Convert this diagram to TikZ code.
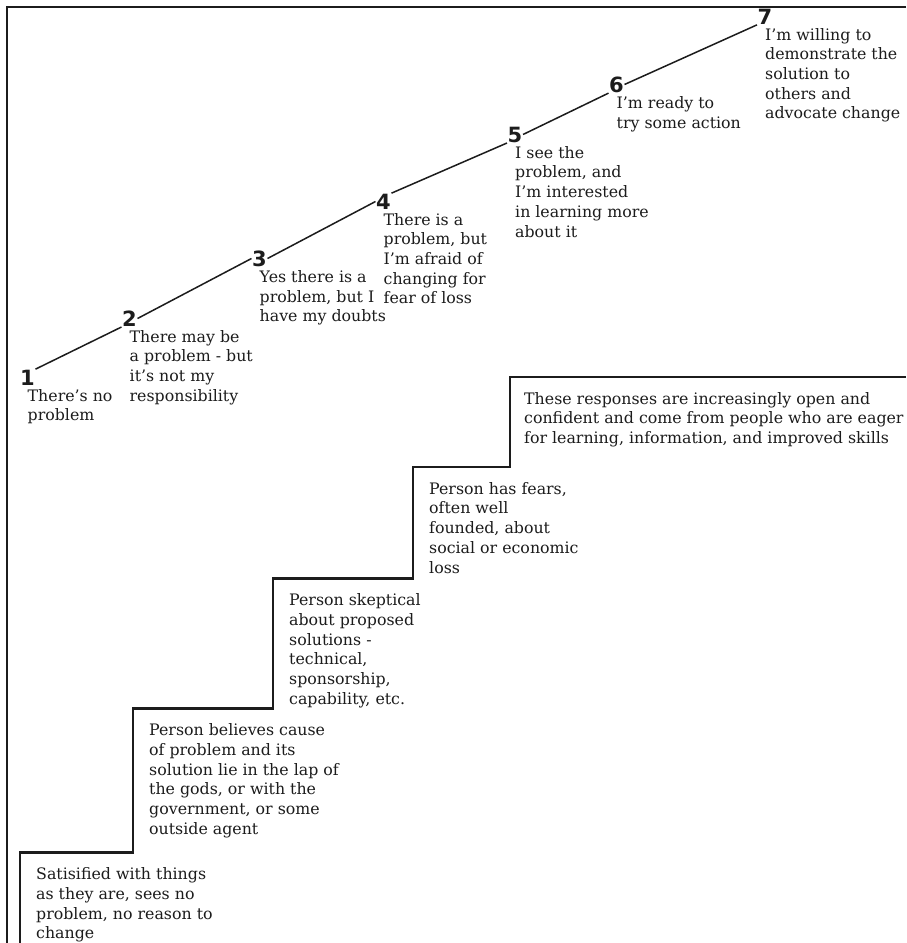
\documentclass[tikz,border=0pt]{standalone}
\usepackage{fontspec}
\setmainfont{DejaVu Serif}
\newfontfamily\rungfont{DejaVu Sans}
\usetikzlibrary{positioning}
\definecolor{paper}{HTML}{FFFFFF}
\definecolor{ink}{HTML}{1C1C1C}
\newcommand{\Gap}{3pt}
\newcommand{\Tread}{15pt}

\begin{document}
\begin{tikzpicture}[x=1pt, y=-1pt, ink,
    rung/.style={font=\rungfont\bfseries\fontsize{21}{21}\selectfont, inner sep=0.5pt},
    say/.style={font=\fontsize{15.8}{19.7}\selectfont, align=left, inner sep=0pt},
    ladder/.style={line width=1.5pt, draw=ink},
    stair/.style={line width=2.2pt, draw=ink},
    frame/.style={line width=2.5pt, draw=ink},
  ]
% --- Background ------------------------------------------------------------------
\useasboundingbox (0,0) rectangle (906,943);
\fill[paper] (0,0) rectangle (906,943);
\draw[frame] (906,7) -- (7,7) -- (7,943);

% --- Rungs of the ladder -------------------------------------------------------------
\node[rung] (n1) at (27.5,377.5) {1};
\node[rung] (n2) at (129.5,318.5) {2};
\node[rung] (n3) at (259.5,258.5) {3};
\node[rung] (n4) at (383.5,201.5) {4};
\node[rung] (n5) at (515,134.5) {5};
\node[rung] (n6) at (616.5,84.5) {6};
\node[rung] (n7) at (765,16.5) {7};

\node[say, below right=\Gap and 8pt of n1.south west] (l1) {There's no\\problem};
\node[say, below right=\Gap and 8pt of n2.south west] (l2) {There may be\\a problem - but\\it's not my\\responsibility};
\node[say, below right=\Gap and 8pt of n3.south west] (l3) {Yes there is a\\problem, but I\\have my doubts};
\node[say, below right=\Gap and 8pt of n4.south west] (l4) {There is a\\problem, but\\I'm afraid of\\changing for\\fear of loss};
\node[say, below right=\Gap and 8pt of n5.south west] (l5) {I see the\\problem, and\\I'm interested\\in learning more\\about it};
\node[say, below right=\Gap and 8pt of n6.south west] (l6) {I'm ready to\\try some action};
\node[say, below right=\Gap and 8pt of n7.south west] (l7) {I'm willing to\\demonstrate the\\solution to\\others and\\advocate change};

% --- Staircase ---------------------------------------------------------------------
\coordinate (s1) at (20,852.5);
\coordinate (s2) at (133,708.5);
\coordinate (s3) at (273,578.5);
\coordinate (s4) at (413,467);
\coordinate (s5) at (510,377);
\draw[stair] (20,943) -- (s1) -| (s2) -| (s3) -| (s4) -| (s5) -- (906,377);

\node[say, below right=\Tread and 16pt of s1] (t1) {Satisified with things\\as they are, sees no\\problem, no reason to\\change};
\node[say, below right=\Tread and 16pt of s2] (t2) {Person believes cause\\of problem and its\\solution lie in the lap of\\the gods, or with the\\government, or some\\outside agent};
\node[say, below right=\Tread and 16pt of s3] (t3) {Person skeptical\\about proposed\\solutions -\\technical,\\sponsorship,\\capability, etc.};
\node[say, below right=\Tread and 16pt of s4] (t4) {Person has fears,\\often well\\founded, about\\social or economic\\loss};
\node[say, below right=\Tread and 14pt of s5] (t5) {These responses are increasingly open and\\confident and come from people who are eager\\for learning, information, and improved skills};

% --- Ladder line (drawn last) ----------------------------------------------------------
\draw[ladder] (n1.north east) -- (n2.south west);
\draw[ladder] (n2.east) -- (n3.west);
\draw[ladder] (n3.east) -- (n4.west);
\draw[ladder] (n4.north east) -- (n5.south west);
\draw[ladder] (n5.east) -- (n6.south west);
\draw[ladder] (n6.east) -- (n7.south west);
\end{tikzpicture}
\end{document}
